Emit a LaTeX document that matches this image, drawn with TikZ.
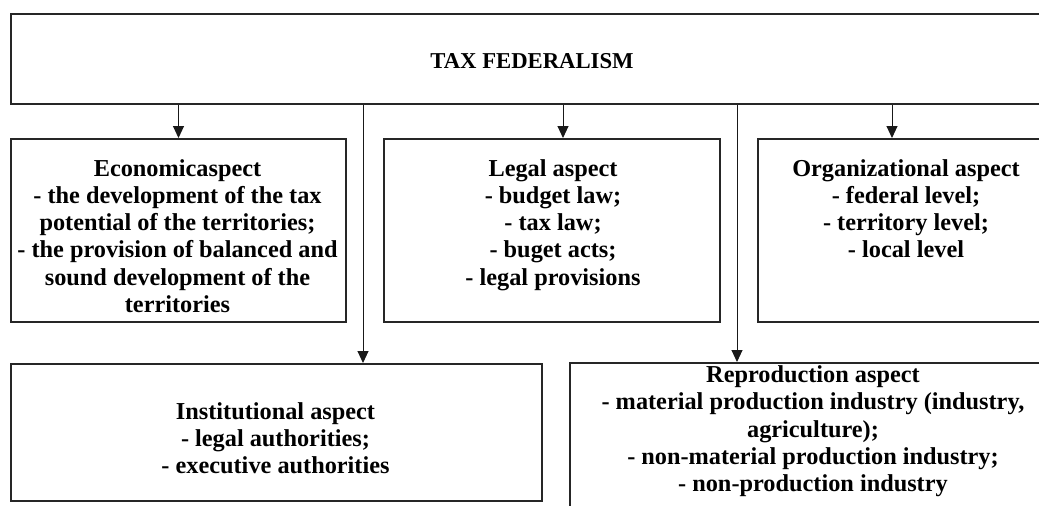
\documentclass[tikz,border=0pt]{standalone}
\usepackage{fontspec}
\setmainfont{Liberation Serif}
\usetikzlibrary{arrows.meta}
\begin{document}
\begin{tikzpicture}[x=1pt,y=-1pt,
  box/.style={draw=black!85, line width=2pt, rectangle, inner sep=0pt, anchor=north west},
  lbl/.style={align=center, font=\fontsize{24.3}{27.3}\selectfont\bfseries, inner sep=0pt, anchor=north},
  conn/.style={line width=1pt, draw=black!90, -{Triangle[length=12pt,width=11pt]}}]
\useasboundingbox (0,0) rectangle (1039,506);
\fill[white] (0,0) rectangle (1039,506);

% boxes
\node[box, minimum width=1045pt, minimum height=90pt] (top) at (10,13) {};
\node[box, minimum width=335pt, minimum height=183pt] (econ) at (10,138) {};
\node[box, minimum width=336pt, minimum height=183pt] (legal) at (383,138) {};
\node[box, minimum width=298pt, minimum height=183pt] (org) at (757,138) {};
\node[box, minimum width=531pt, minimum height=137pt] (inst) at (10,363) {};
\node[box, minimum width=488pt, minimum height=160pt] (repro) at (569,362) {};

% texts
\node[lbl, anchor=center, font=\fontsize{22.7}{27.3}\selectfont\bfseries] (toptext) at (532,61) {TAX FEDERALISM};
\node[lbl] (econtext) at (177.5,159) {Economicaspect\\- the development of the tax\\potential of the territories;\\- the provision of balanced and\\sound development of the\\territories};
\node[lbl] (legaltext) at (553,159) {Legal aspect\\- budget law;\\- tax law;\\- buget acts;\\- legal provisions};
\node[lbl] (orgtext) at (906,159) {Organizational aspect\\- federal level;\\- territory level;\\- local level};
\node[lbl] (insttext) at (275.5,402) {Institutional aspect\\- legal authorities;\\- executive authorities};
\node[lbl] (reprotext) at (813,365.5) {Reproduction aspect\\- material production industry (industry,\\agriculture);\\- non-material production industry;\\- non-production industry};

% connector x positions
\coordinate (xlegal) at (563,0);
\coordinate (xorg) at (892,0);
\coordinate (xinst) at (363,0);
\coordinate (xrepro) at (737,0);

% connectors
\draw[conn] (top.south -| econ.north) -- (econ.north);
\draw[conn] (top.south -| xlegal) -- (legal.north -| xlegal);
\draw[conn] (top.south -| xorg) -- (org.north -| xorg);
\draw[conn] (top.south -| xinst) -- (inst.north -| xinst);
\draw[conn] (top.south -| xrepro) -- (repro.north -| xrepro);
\end{tikzpicture}
\end{document}
